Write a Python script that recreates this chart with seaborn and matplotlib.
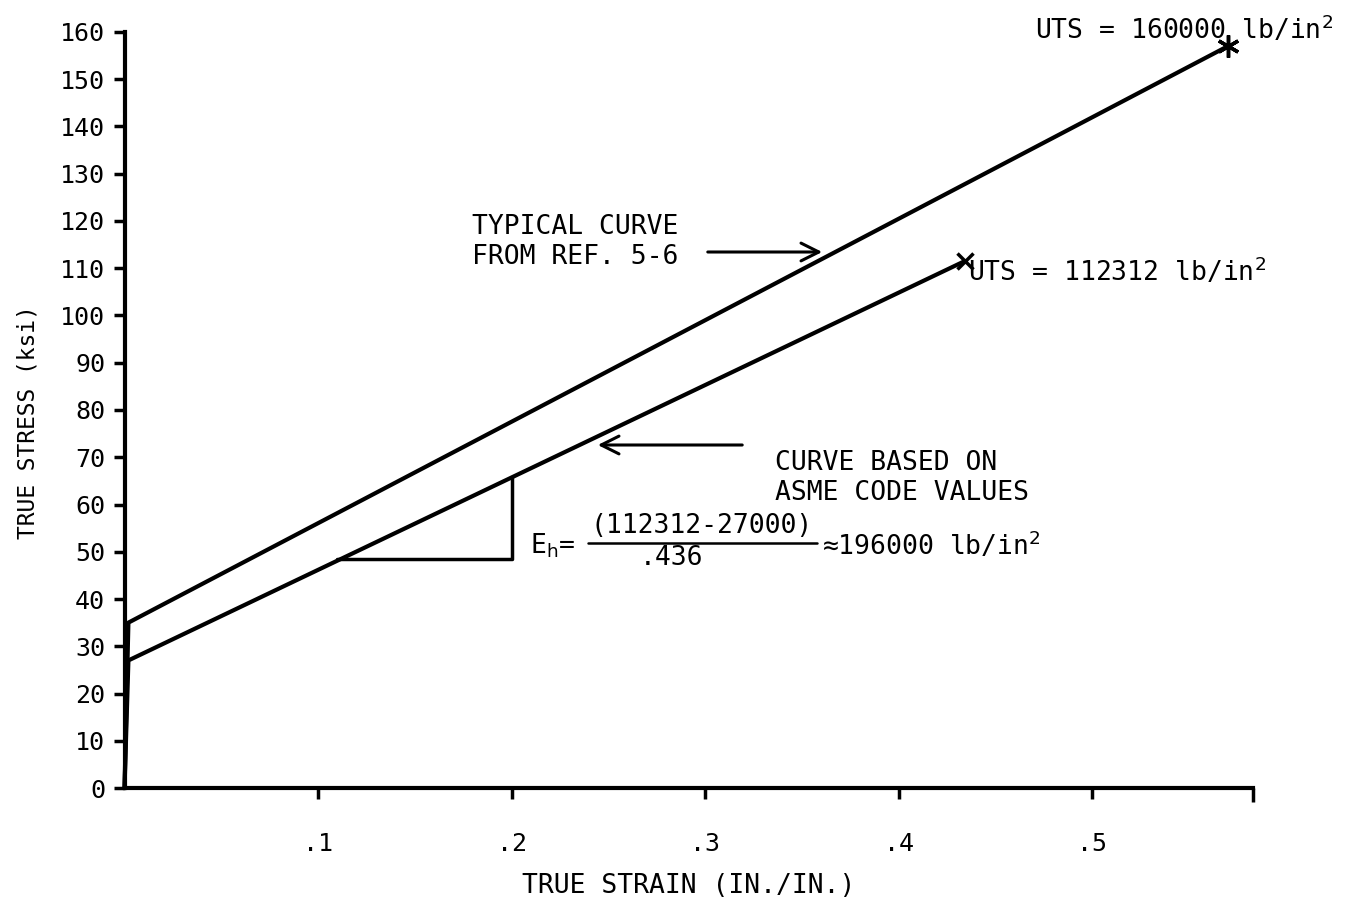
import matplotlib
matplotlib.use("Agg")
import matplotlib.pyplot as plt
import seaborn as sns
import pandas as pd

# ---- data ----
strain_typical = [0.0, 0.002, 0.570]
stress_typical = [0.0, 35.0, 157.0]
strain_asme = [0.0, 0.002, 0.434]
stress_asme = [0.0, 27.0, 111.5]
# slope triangle on ASME curve
tri_strain = [0.110, 0.200, 0.200]
tri_stress = [48.5, 48.5, 65.8]

y_ticks = list(range(0, 161, 10))
x_ticks = [0.1, 0.2, 0.3, 0.4, 0.5]
x_tick_labels = [".1", ".2", ".3", ".4", ".5"]

sns.set_style("ticks")
plt.rcParams['font.family'] = ['DejaVu Sans Mono', 'DejaVu Sans']
plt.rcParams['mathtext.fontset'] = 'dejavusans'
plt.rcParams['text.color'] = 'black'
plt.rcParams['axes.labelcolor'] = 'black'

fig = plt.figure(figsize=(13.61, 9.11), dpi=100)
ax = fig.add_axes([0.0915, 0.135, 0.9207 - 0.0915, 0.9649 - 0.135])

df_t = pd.DataFrame({"strain": strain_typical, "stress": stress_typical})
df_a = pd.DataFrame({"strain": strain_asme, "stress": stress_asme})
df_tri = pd.DataFrame({"strain": tri_strain, "stress": tri_stress})

lw = 3.0
sns.lineplot(data=df_t, x="strain", y="stress", sort=False, estimator=None,
             color="black", linewidth=lw, ax=ax, clip_on=False)
sns.lineplot(data=df_a, x="strain", y="stress", sort=False, estimator=None,
             color="black", linewidth=lw, ax=ax, clip_on=False)
sns.lineplot(data=df_tri, x="strain", y="stress", sort=False, estimator=None,
             color="black", linewidth=2.5, ax=ax, clip_on=False)

# end markers
ax.plot([strain_typical[-1]], [stress_typical[-1]], marker=(6, 2, 0),
        markersize=16, mew=2.5, color="black", clip_on=False)
ax.plot([strain_asme[-1]], [stress_asme[-1]], marker="x",
        markersize=11, mew=2.5, color="black", clip_on=False)

ax.set_xlim(0, 0.583)
ax.set_ylim(0, 160)

for s in ["top", "right"]:
    ax.spines[s].set_visible(False)
for s in ["left", "bottom"]:
    ax.spines[s].set_linewidth(3)
    ax.spines[s].set_color("black")

ax.set_yticks(y_ticks)
ax.set_yticklabels([str(v) for v in y_ticks])
ax.set_xticks(x_ticks)
ax.set_xticklabels(x_tick_labels)
ax.set_xticks([0.583], minor=True)
ax.tick_params(axis="both", which="major", direction="out", length=8, width=2.5,
               labelsize=18, color="black", labelcolor="black",
               bottom=True, left=True)
ax.tick_params(axis="x", which="major", pad=24)
ax.tick_params(axis="y", which="major", pad=6)
ax.tick_params(axis="x", which="minor", direction="out", length=10, width=2.5,
               bottom=True, color="black")

ax.set_xlabel("TRUE STRAIN (IN./IN.)", fontsize=19, labelpad=12)
ax.set_ylabel("TRUE STRESS (ksi)", fontsize=16.5, labelpad=14)
ax.yaxis.set_label_coords(-0.075, (788 - 422) / 756)

# annotations
fs = 19
ax.text(1035 / 1361, 1 - 30 / 911, r"UTS = 160000 lb/in$^{2}$", transform=fig.transFigure,
        fontsize=fs, ha="left", va="center")
ax.text(968 / 1361, 1 - 272 / 911, r"UTS = 112312 lb/in$^{2}$", transform=fig.transFigure,
        fontsize=fs, ha="left", va="center")

ax.text(472 / 1361, 1 - 242 / 911, "TYPICAL CURVE\nFROM REF. 5-6", transform=fig.transFigure,
        fontsize=fs, ha="left", va="center", linespacing=1.15)
ax.text(775 / 1361, 1 - 478 / 911, "CURVE BASED ON\nASME CODE VALUES", transform=fig.transFigure,
        fontsize=fs, ha="left", va="center", linespacing=1.2)

ax.annotate("", xy=(825 / 1361, 1 - 252 / 911), xytext=(705 / 1361, 1 - 252 / 911),
            xycoords=fig.transFigure, textcoords=fig.transFigure,
            arrowprops=dict(arrowstyle="->", color="black", lw=2.2,
                            mutation_scale=32))
ax.annotate("", xy=(595 / 1361, 1 - 445 / 911), xytext=(745 / 1361, 1 - 445 / 911),
            xycoords=fig.transFigure, textcoords=fig.transFigure,
            arrowprops=dict(arrowstyle="->", color="black", lw=2.2,
                            mutation_scale=32))

# E_h formula
ax.text(530 / 1361, 1 - 546 / 911, r"E$_{\mathsf{h}}$=", transform=fig.transFigure,
        fontsize=fs, ha="left", va="center")
ax.text(702 / 1361, 1 - 526 / 911, "(112312-27000)", transform=fig.transFigure,
        fontsize=fs, ha="center", va="center")
ax.text(672 / 1361, 1 - 558 / 911, ".436", transform=fig.transFigure,
        fontsize=fs, ha="center", va="center")
fig.add_artist(plt.Line2D([588 / 1361, 817 / 1361], [1 - 543 / 911, 1 - 543 / 911],
                          color="black", lw=1.8))
ax.text(822 / 1361, 1 - 546 / 911, r"≈196000 lb/in$^{2}$", transform=fig.transFigure,
        fontsize=fs, ha="left", va="center")

fig.savefig("out.png", dpi=100, facecolor="white")
